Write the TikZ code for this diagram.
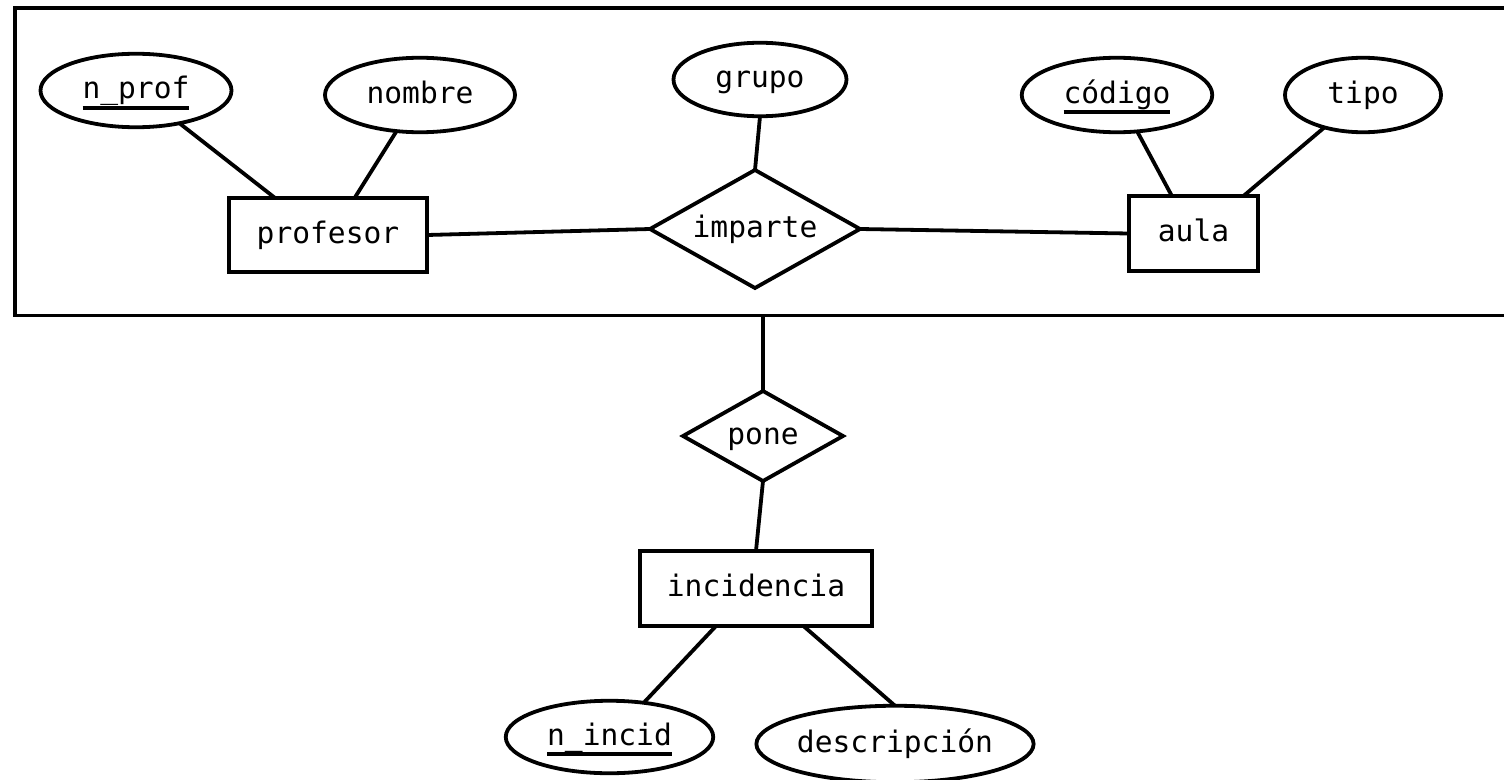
\documentclass[tikz,border=0pt]{standalone}
\usepackage{fontspec}
\setmonofont{DejaVu Sans Mono}
\usetikzlibrary{shapes.geometric}

% key attribute: text with a thick rule below it
\newcommand\pkey[1]{\setbox0=\hbox{#1}\leavevmode\rlap{\smash{\rule[-11pt]{\wd0}{4pt}}}\box0}

\tikzset{
  er/.style={draw=black, line width=3.8pt, inner sep=0pt, outer sep=0pt,
    font=\ttfamily\fontsize{29.6pt}{35pt}\selectfont, text height=16pt, text depth=0pt},
  entity/.style={er, rectangle},
  attr/.style={er, ellipse},
  rel/.style={er, diamond, aspect=1.78},
  link/.style={line width=3.8pt, line cap=butt},
  aggbox/.style={draw=black, line width=3.8pt, rectangle, inner sep=0pt, outer sep=0pt}
}

\begin{document}
\begin{tikzpicture}[x=1pt, y=-1pt]
  \useasboundingbox (0,0) rectangle (1504,779);
  \fill[white] (0,0) rectangle (1504,779);

  % aggregation box around the imparte relationship
  \node[aggbox, minimum width=1495pt, minimum height=307.5pt] (agg) at (762.5,161.75) {};

  % entities
  \node[entity, minimum width=198.5pt, minimum height=74.5pt] (profesor) at (328,235) {profesor};
  \node[entity, minimum width=129.5pt, minimum height=75.5pt] (aula) at (1193.5,233.5) {aula};
  \node[entity, minimum width=232.5pt, minimum height=75.5pt] (incidencia) at (756,588.5) {incidencia};

  % relationships
  \node[rel, minimum width=210pt, minimum height=118pt] (imparte) at (755,229) {imparte};
  \node[rel, minimum width=160pt, minimum height=90pt] (pone) at (763,436) {pone};

  % attributes
  \node[attr, minimum width=191pt, minimum height=73.5pt] (nprof) at (136,90.5) {\pkey{n\_prof}};
  \node[attr, minimum width=190pt, minimum height=74.5pt] (nombre) at (420,95) {nombre};
  \node[attr, minimum width=173pt, minimum height=73.5pt] (grupo) at (760,79.5) {grupo};
  \node[attr, minimum width=190.5pt, minimum height=74.5pt] (codigo) at (1117,95) {\pkey{código}};
  \node[attr, minimum width=156pt, minimum height=74.5pt] (tipo) at (1363,95) {tipo};
  \node[attr, minimum width=207.5pt, minimum height=72.5pt] (nincid) at (609.5,737) {\pkey{n\_incid}};
  \node[attr, minimum width=276.5pt, minimum height=76.5pt] (descr) at (895,744) {descripción};

  % connectors
  \draw[link] (nprof.-37) -- ([xshift=46pt]profesor.north west);
  \draw[link] (nombre.-123) -- ([xshift=126pt]profesor.north west);
  \draw[link] (grupo.south) -- (imparte.north);
  \draw[link] (profesor.east) -- (imparte.west);
  \draw[link] (imparte.east) -- (aula.west);
  \draw[link] (codigo.-61) -- ([xshift=43pt]aula.north west);
  \draw[link] (tipo.-140) -- ([xshift=115pt]aula.north west);
  \draw[link] (agg.south -| pone.north) -- (pone.north);
  \draw[link] (pone.south) -- (incidencia.north);
  \draw[link] ([xshift=76pt]incidencia.south west) -- (nincid.45);
  \draw[link] ([xshift=164pt]incidencia.south west) -- (descr.north);
\end{tikzpicture}
\end{document}
